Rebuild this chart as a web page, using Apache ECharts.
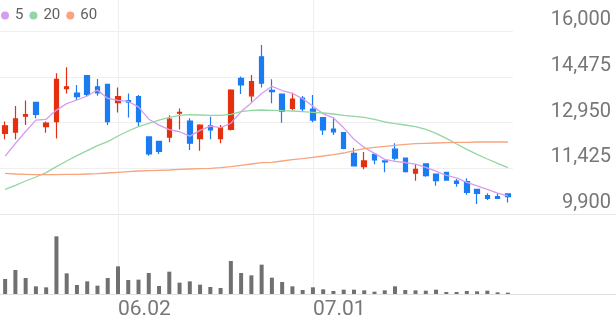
<!DOCTYPE html>
<html>
<head>
<meta charset="utf-8">
<script src="https://cdn.jsdelivr.net/npm/echarts@6.0.0/dist/echarts.min.js"></script>
<style>
html,body{margin:0;padding:0;background:#fff;}
#chart{width:616px;height:321px;}
</style>
</head>
<body>
<div id="chart"></div>
<script>
const dates = ['05.16','05.19','05.20','05.21','05.22','05.23','05.26','05.27','05.28','05.29','05.30',
  '06.02','06.04','06.05','06.09','06.10','06.11','06.12','06.13','06.16','06.17','06.18','06.19','06.20',
  '06.23','06.24','06.25','06.26','06.27','06.30','07.01','07.02','07.03','07.04','07.07','07.08','07.09',
  '07.10','07.11','07.14','07.15','07.16','07.17','07.18','07.21','07.22','07.23','07.24','07.25','07.28'];
const shownDates = ['06.02','07.01'];
const openP  = [12590,12630,13160,13620,12810,12980,14080,13930,14510,14140,14220,13610,13680,13810,12470,12320,12460,13260,13000,12410,12840,12410,12720,14420,13840,15140,14020,13900,13420,13760,13400,13110,12730,12610,11920,11480,11890,11670,12060,11760,11260,11570,11230,11290,11000,10980,10720,10510,10480,10570];
const closeP = [12840,13070,13210,13220,12930,14390,14140,13810,13890,13940,12980,13810,13630,12980,11900,11990,13060,13290,12260,12860,12700,12780,14030,14200,14310,14260,13980,13330,13730,13400,13030,12700,12640,12090,11500,11670,11700,11640,11760,11310,11390,11180,11010,11030,10920,10620,10590,10420,10420,10480];
const lowP   = [12390,12390,12870,13090,12610,12420,13920,13700,13810,13840,12870,13280,13120,12810,11840,11900,12290,12720,12030,12010,12390,12260,12680,13900,13640,14120,13590,12940,13370,13310,12960,12530,12530,12060,11480,11390,11560,11290,11680,11280,11010,11140,10840,11010,10810,10540,10230,10370,10420,10280];
const highP  = [12980,13500,13680,13620,12980,14590,14790,14200,14510,14400,14220,14120,13920,13870,12470,12320,13190,13420,13090,12890,13140,12870,14060,14480,14530,15530,14390,13900,13940,13830,13870,13110,13120,12610,12110,11970,11920,11670,12260,11760,11570,11590,11230,11310,11070,11090,10720,10590,10590,10570];
const ma5  = [11830,12250,12650,13030,13055,13364,13580,13700,13833,14035,13753,13687,13651,13469,13060,12862,12711,12642,12498,12689,12831,12776,12925,13313,13604,13916,14156,14016,13922,13740,13495,13240,13102,12773,12393,12120,11920,11720,11653,11616,11560,11456,11329,11184,11107,10953,10835,10718,10595,10507];
const ma20 = [10723,10856,11000,11133,11278,11478,11667,11844,12011,12178,12311,12500,12667,12811,12922,13033,13122,13189,13211,13200,13189,13189,13222,13311,13356,13367,13356,13344,13333,13311,13289,13267,13233,13189,13156,13122,13056,12967,12911,12867,12811,12722,12589,12422,12233,12056,11889,11733,11589,11444];
const ma60 = [11256,11233,11222,11211,11211,11211,11222,11222,11233,11244,11267,11289,11311,11333,11345,11356,11367,11389,11400,11411,11422,11444,11478,11522,11567,11611,11622,11667,11711,11744,11789,11833,11878,11933,12011,12078,12122,12156,12189,12222,12244,12256,12267,12278,12289,12289,12300,12300,12300,12300];
const volume = [225000,360000,240000,115000,100000,865000,310000,135000,190000,125000,240000,415000,210000,215000,315000,120000,335000,170000,190000,140000,105000,90000,495000,315000,280000,440000,245000,180000,115000,60000,100000,70000,45000,65000,65000,55000,35000,55000,115000,60000,55000,50000,65000,30000,30000,45000,40000,50000,25000,20000];
const yTicks = {min: 9900, max: 16000, step: 1525};
const maNames = ['5','20','60'];

const UP = '#e4300f', DOWN = '#1b7cf2';
const MA_COLORS = ['#d79cf0', '#93d6a3', '#f7a47f'];
const FONT = 'Roboto, "Noto Sans", sans-serif';

const candleData = dates.map((d, i) => [openP[i], closeP[i], lowP[i], highP[i]]);

const chart = echarts.init(document.getElementById('chart'), null, {renderer: 'canvas'});
chart.setOption({
  animation: false,
  backgroundColor: '#fff',
  textStyle: {fontFamily: FONT},
  legend: {
    data: maNames,
    left: 1, top: 8, padding: 0,
    icon: 'circle', itemWidth: 8, itemHeight: 8, itemGap: 6,
    textStyle: {fontSize: 15, color: '#606060', fontFamily: FONT, padding: [0,0,0,1]},
    selectedMode: false
  },
  grid: [
    {left: 0, width: 513, top: 31, height: 183},
    {left: 0, width: 513, top: 226, height: 68},
    {left: 0, width: 513, top: 0, height: 294}
  ],
  xAxis: [
    {type: 'category', gridIndex: 0, data: dates, boundaryGap: true,
     axisLine: {show: false}, axisTick: {show: false}, axisLabel: {show: false}, splitLine: {show: false}},
    {type: 'category', gridIndex: 1, data: dates, boundaryGap: true,
     axisLine: {show: false}, axisTick: {show: false}, splitLine: {show: false},
     axisLabel: {
       interval: (idx, val) => shownDates.indexOf(val) >= 0,
       align: 'left', margin: 5, fontSize: 21, color: '#777', fontFamily: FONT
     }},
    {type: 'category', gridIndex: 2, data: dates, boundaryGap: true, show: false}
  ],
  yAxis: [
    {type: 'value', gridIndex: 0, position: 'right', min: yTicks.min, max: yTicks.max, interval: yTicks.step,
     axisLine: {show: false}, axisTick: {show: false},
     splitLine: {lineStyle: {color: '#efefef', width: 1}},
     axisLabel: {
       formatter: v => v.toLocaleString('en-US'),
       align: 'right', margin: 98, verticalAlign: 'bottom', padding: [0,0,1,0],
       fontSize: 20, color: '#777', fontFamily: FONT
     }},
    {type: 'value', gridIndex: 1, min: 0, max: 1020000, show: false, splitLine: {show: false}},
    {type: 'value', gridIndex: 2, min: 0, max: 1, show: false, splitLine: {show: false}}
  ],
  graphic: [
    {type: 'line', shape: {x1: 0, y1: 214.5, x2: 616, y2: 214.5}, style: {stroke: '#e6e6e6', lineWidth: 1}, z: 1, silent: true},
    {type: 'line', shape: {x1: 0, y1: 294.5, x2: 616, y2: 294.5}, style: {stroke: '#e0e0e0', lineWidth: 1}, z: 1, silent: true}
  ],
  series: [
    {type: 'line', xAxisIndex: 2, yAxisIndex: 2, data: [], z: 0, silent: true,
     markLine: {
       silent: true, symbol: ['none','none'], animation: false,
       label: {show: false},
       lineStyle: {color: '#eeeeee', width: 1, type: 'solid'},
       emphasis: {disabled: true},
       data: shownDates.map(d => ({xAxis: d}))
     }},
    {type: 'candlestick', name: 'price', xAxisIndex: 0, yAxisIndex: 0, data: candleData, barWidth: 5, z: 10,
     itemStyle: {color: UP, color0: DOWN, borderColor: UP, borderColor0: DOWN, borderWidth: 1.2}},
    {type: 'line', name: maNames[0], xAxisIndex: 0, yAxisIndex: 0, data: ma5, showSymbol: false, z: 11,
     lineStyle: {color: MA_COLORS[0], width: 1.3}, itemStyle: {color: MA_COLORS[0]}},
    {type: 'line', name: maNames[1], xAxisIndex: 0, yAxisIndex: 0, data: ma20, showSymbol: false, z: 11,
     lineStyle: {color: MA_COLORS[1], width: 1.3}, itemStyle: {color: MA_COLORS[1]}},
    {type: 'line', name: maNames[2], xAxisIndex: 0, yAxisIndex: 0, data: ma60, showSymbol: false, z: 11,
     lineStyle: {color: MA_COLORS[2], width: 1.3}, itemStyle: {color: MA_COLORS[2]}},
    {type: 'bar', name: 'volume', xAxisIndex: 1, yAxisIndex: 1, data: volume, barWidth: 4, z: 10,
     itemStyle: {color: '#707070'}}
  ]
});
</script>
</body>
</html>
